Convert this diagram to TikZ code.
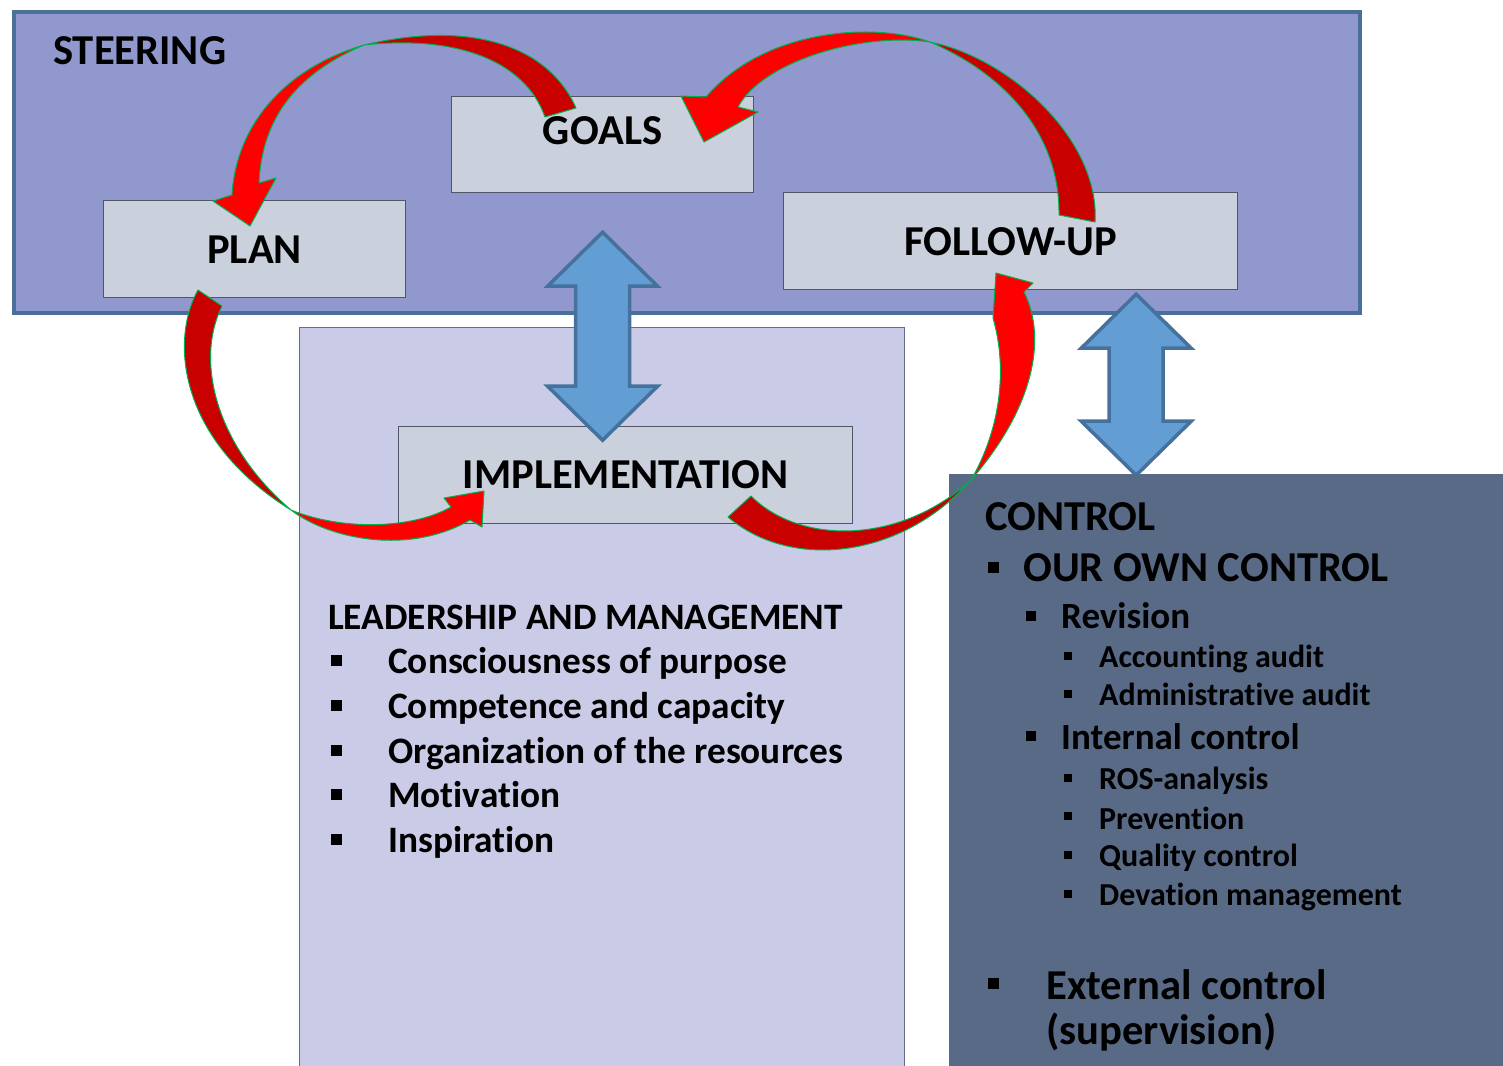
\documentclass[tikz,border=0pt]{standalone}
\usepackage{fontspec}
\setmainfont{Carlito}[Ligatures=NoCommon]
\usepackage{tikz}
\usetikzlibrary{calc}
\definecolor{steerblue}{RGB}{145,152,206}
\definecolor{steeredge}{RGB}{74,112,153}
\definecolor{boxgrey}{RGB}{203,208,221}
\definecolor{boxedge}{RGB}{80,86,102}
\definecolor{implfill}{RGB}{201,203,231}
\definecolor{impledge}{RGB}{100,108,135}
\definecolor{ctrlfill}{RGB}{88,106,134}
\definecolor{arrowblue}{RGB}{98,158,211}
\definecolor{arrowedge}{RGB}{69,113,156}
\definecolor{loopred}{RGB}{255,0,0}
\definecolor{loopdark}{RGB}{200,0,0}
\definecolor{loopedge}{RGB}{0,176,80}
\tikzstyle{stepbox} = [draw=boxedge, fill=boxgrey, line width=1.2pt, inner sep=0pt, anchor=north west, font=\bfseries\fontsize{42.6}{51}\selectfont]
\tikzstyle{loop front} = [fill=loopred, draw=loopedge, line width=1pt, line join=round]
\tikzstyle{loop back} = [fill=loopdark, draw=loopedge, line width=1pt, line join=round]
\newcommand{\updown}[3][]{
 \begin{scope}[shift={(#2)},#1]
  \filldraw[fill=arrowblue, draw=arrowedge, line width=3.5pt, line join=miter]
   (0,0) -- (55,54) -- (27,54) -- (27,#3-54) -- (55,#3-54) -- (0,#3)
   -- (-55,#3-54) -- (-27,#3-54) -- (-27,54) -- (-55,54) -- cycle;
 \end{scope}
}
\newcommand{\sqbullet}[2][10]{
 \fill (#2) ++(-#1/2,-#1/2) rectangle ++(#1,#1);
}
\begin{document}
\begin{tikzpicture}[x=1pt,y=-1pt]
    \tikzstyle{headtxt} = [anchor=base west, inner sep=0pt, font=\bfseries\fontsize{42.6}{51}\selectfont]
    \tikzstyle{subtxt} = [anchor=base west, inner sep=0pt, font=\bfseries\fontsize{37}{44}\selectfont]
    \tikzstyle{subsubtxt} = [anchor=base west, inner sep=0pt, font=\bfseries\fontsize{32}{38}\selectfont]
    \tikzstyle{listtxt} = [anchor=base west, inner sep=0pt, font=\bfseries\fontsize{37.3}{45}\selectfont]
    \tikzstyle{bigtxt} = [anchor=base west, inner sep=0pt, font=\bfseries\fontsize{42.6}{51}\selectfont]
    \useasboundingbox[fill=white] (0,0) rectangle (1503,1065);

    % panels
    \node[draw=steeredge, fill=steerblue, line width=4pt, inner sep=0pt, anchor=north west,
          minimum width=1346pt, minimum height=301pt] (steering) at (12,10) {};
    \node[draw=impledge, fill=implfill, line width=1pt, inner sep=0pt, anchor=north west,
          minimum width=605pt, minimum height=780pt] (impl) at (299,327) {};
    \node[fill=ctrlfill, inner sep=0pt, anchor=north west,
          minimum width=570pt, minimum height=610pt] (control) at (949,474) {};

    % steps
    \node[stepbox, minimum width=302pt, text height=48pt, text depth=48pt] (goals) at (451,96) {GOALS};
    \node[stepbox, minimum width=302pt, text height=63pt, text depth=34pt] (plan) at (103,200) {PLAN};
    \node[stepbox, minimum width=454pt, text height=63pt, text depth=34pt] (followup) at (783,192) {FOLLOW-UP};
    \node[stepbox, minimum width=454pt, text height=62pt, text depth=35pt] (implementation) at (398,426) {IMPLEMENTATION};

    \updown{$(goals.south)+(0,39)$}{208}
    \updown{$(followup.south east)+(-102,4)$}{181}

    % goals to plan
    \filldraw[loop back] (576,108) .. controls (548,45) and (470,20) .. (364,45)
      .. controls (455,35) and (525,60) .. (545,117) -- cycle;
    \filldraw[loop front] (364,45) .. controls (285,68) and (236,125) .. (232,195)
      -- (213,201) -- (250,226) -- (276,178) -- (259,183)
      .. controls (262,115) and (300,72) .. (364,45) -- cycle;
    % follow-up to goals
    \filldraw[loop back] (1095,222) .. controls (1100,140) and (1010,58) .. (930,42)
      .. controls (1000,72) and (1060,130) .. (1059,215) -- cycle;
    \filldraw[loop front] (930,42) .. controls (875,22) and (765,28) .. (706,97)
      -- (681,96) -- (704,142) -- (758,112) -- (738,107)
      .. controls (762,62) and (860,32) .. (930,42) -- cycle;
    % plan to implementation
    \filldraw[loop back] (198,290) .. controls (170,340) and (178,440) .. (291,510)
      .. controls (215,445) and (195,360) .. (222,306) -- cycle;
    \filldraw[loop front] (291,510) .. controls (330,540) and (410,555) .. (470,520)
      -- (482,527) -- (484,491) -- (444,498) -- (451,507)
      .. controls (410,530) and (340,530) .. (291,510) -- cycle;
    % implementation to follow-up
    \filldraw[loop back] (728,517) .. controls (790,570) and (900,560) .. (971,480)
      .. controls (900,545) and (800,545) .. (751,496) -- cycle;
    \filldraw[loop front] (971,480) .. controls (1032,410) and (1048,340) .. (1024,292)
      -- (1033,283) -- (996,273) -- (993,318)
      .. controls (1008,370) and (1000,430) .. (971,480) -- cycle;

    \node[headtxt] (steeringtxt) at (53,64) {STEERING};

    % leadership list
    \node[listtxt] (leadtxt) at (328,629) {LEADERSHIP AND MANAGEMENT};
    \sqbullet[11]{336,660} \node[listtxt] (purpose) at (388,673) {Consciousness of purpose};
    \sqbullet[11]{336,705} \node[listtxt] (competence) at (388,718) {Competence and capacity};
    \sqbullet[11]{336,750} \node[listtxt] (resources) at (388,763) {Organization of the resources};
    \sqbullet[11]{336,794} \node[listtxt] (motivation) at (388,807) {Motivation};
    \sqbullet[11]{336,839} \node[listtxt] (inspiration) at (388,852) {Inspiration};

    % control list
    \node[headtxt] (controltxt) at (985,530) {CONTROL};
    \sqbullet[11]{993,567} \node[headtxt] (owncontrol) at (1023,581) {OUR OWN CONTROL};
    \sqbullet[10]{1031,616} \node[subtxt] (revision) at (1061,628) {Revision};
    \sqbullet[8]{1068,656} \node[subsubtxt] (accounting) at (1099,667) {Accounting audit};
    \sqbullet[8]{1068,694} \node[subsubtxt] (administrative) at (1099,705) {Administrative audit};
    \sqbullet[10]{1031,736} \node[subtxt] (internal) at (1061,749) {Internal control};
    \sqbullet[8]{1068,778} \node[subsubtxt] (ros) at (1099,789) {ROS-analysis};
    \sqbullet[8]{1068,816} \node[subsubtxt] (prevention) at (1099,829) {Prevention};
    \sqbullet[8]{1068,855} \node[subsubtxt] (quality) at (1099,866) {Quality control};
    \sqbullet[8]{1068,894} \node[subsubtxt] (deviation) at (1099,905) {Devation management};
    \sqbullet[11]{993,983} \node[bigtxt] (external) at (1046,999) {External control};
    \node[bigtxt] (supervision) at (1046,1044) {(supervision)};
\end{tikzpicture}
\end{document}
